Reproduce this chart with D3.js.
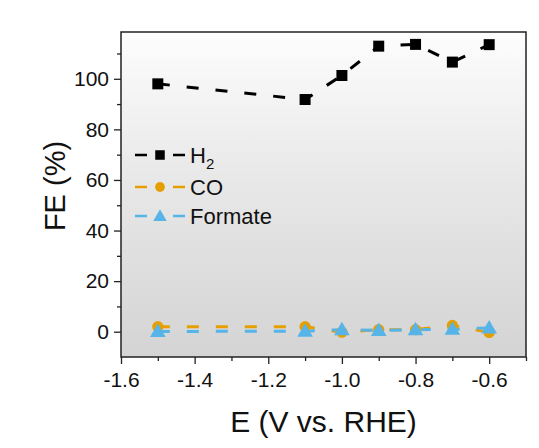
<!DOCTYPE html>
<meta charset="utf-8">
<script src="https://d3js.org/d3.v7.min.js"></script>
<style>
body { margin: 0; background: #fff; }
text { font-family: "Liberation Sans", Arial, sans-serif; fill: #111; }
.axis path { display: none; }
.axis line { stroke: #222; stroke-width: 1.3px; }
.axis text { font-size: 21px; font-family: "Liberation Sans", Arial, sans-serif; fill: #111; }
</style>
<body>
<script>
var potentials = [-1.5, -1.1, -1.0, -0.9, -0.8, -0.7, -0.6];
var h2 = [98.0, 91.8, 101.3, 112.9, 113.6, 106.6, 113.5];
var co = [2.0, 2.0, -0.2, 0.8, 0.8, 2.5, -0.3];
var formate = [0.1, 0.2, 0.8, 0.5, 0.8, 1.0, 1.5];
var xTicks = [-1.6, -1.4, -1.2, -1.0, -0.8, -0.6];
var yTicks = [0, 20, 40, 60, 80, 100];

var series = [
  {name: "H2", values: h2, color: "#000000", symbol: d3.symbolSquare},
  {name: "CO", values: co, color: "#e69f00", symbol: d3.symbolCircle},
  {name: "Formate", values: formate, color: "#56b4e9", symbol: d3.symbolTriangle}
];

var margin = {top: 32, right: 13, bottom: 91, left: 121};
var width = 539 - margin.left - margin.right,
    height = 448 - margin.top - margin.bottom;

var svg = d3.select("body").append("svg")
    .attr("width", 539)
    .attr("height", 448);

var grad = svg.append("defs").append("linearGradient")
    .attr("id", "bg").attr("x1", 0).attr("y1", 0).attr("x2", 0).attr("y2", 1);
grad.append("stop").attr("offset", "0%").attr("stop-color", "#fdfdfd");
grad.append("stop").attr("offset", "45%").attr("stop-color", "#e8e8e8");
grad.append("stop").attr("offset", "100%").attr("stop-color", "#d4d4d4");

var g = svg.append("g")
    .attr("transform", "translate(" + margin.left + "," + margin.top + ")");

var x = d3.scaleLinear().domain([-1.6, -0.5]).range([0, width]);
var y = d3.scaleLinear().domain([-10, 118.5]).range([height, 0]);

g.append("rect")
    .attr("width", width).attr("height", height)
    .attr("fill", "url(#bg)");

// minor ticks
g.append("g").attr("class", "axis")
    .attr("transform", "translate(0," + height + ")")
    .call(d3.axisBottom(x).tickValues(d3.range(-1.5, -0.45, 0.2)).tickSize(4).tickFormat(""));
g.append("g").attr("class", "axis")
    .call(d3.axisLeft(y).tickValues(d3.range(10, 115, 20)).tickSize(4).tickFormat(""));

// major ticks
var fmt = d3.format(".1f");
var xAxis = g.append("g").attr("class", "axis")
    .attr("transform", "translate(0," + height + ")")
    .call(d3.axisBottom(x).tickValues(xTicks).tickSize(7)
      .tickFormat(function(d) { return fmt(d).replace("\u2212", "-"); }));
xAxis.selectAll("text").attr("y", 30).attr("dy", 0);

var yAxis = g.append("g").attr("class", "axis")
    .call(d3.axisLeft(y).tickValues(yTicks).tickSize(7));
yAxis.selectAll("text").attr("x", -12);

// frame
g.append("rect")
    .attr("width", width).attr("height", height)
    .attr("fill", "none").attr("stroke", "#222").attr("stroke-width", 1.5);

var line = d3.line()
    .x(function(d, i) { return x(potentials[i]); })
    .y(function(d) { return y(d); });

series.forEach(function(s) {
  g.append("path")
    .datum(s.values)
    .attr("fill", "none")
    .attr("stroke", s.color)
    .attr("stroke-width", 3)
    .attr("stroke-dasharray", "12,17")
    .attr("d", line);
});

function markerSize(s) {
  return s.symbol === d3.symbolTriangle ? 105 : (s.symbol === d3.symbolSquare ? 121 : 100);
}

series.forEach(function(s) {
  var sym = d3.symbol().type(s.symbol).size(markerSize(s));
  g.selectAll(null).data(s.values).enter().append("path")
    .attr("d", sym)
    .attr("fill", s.color)
    .attr("transform", function(d, i) {
      return "translate(" + x(potentials[i]) + "," + (y(d) + (s.symbol === d3.symbolTriangle ? 1 : 0)) + ")";
    });
});

// legend
var legend = g.append("g").attr("transform", "translate(14,123)");
var rowY = [0, 32, 61];
series.forEach(function(s, i) {
  var row = legend.append("g").attr("transform", "translate(0," + rowY[i] + ")");
  row.append("line").attr("x1", 0).attr("x2", 12).attr("stroke", s.color).attr("stroke-width", 2.5);
  row.append("line").attr("x1", 38).attr("x2", 50).attr("stroke", s.color).attr("stroke-width", 2.5);
  row.append("path")
    .attr("d", d3.symbol().type(s.symbol).size(markerSize(s) * 0.75))
    .attr("fill", s.color)
    .attr("transform", "translate(25," + (s.symbol === d3.symbolTriangle ? 1 : 0) + ")");
  var t = row.append("text").attr("x", 55).attr("y", 8).style("font-size", "22px");
  if (s.name === "H2") {
    t.append("tspan").text("H");
    t.append("tspan").attr("dy", 6).style("font-size", "15px").text("2");
  } else {
    t.text(s.name);
  }
});

// axis titles
svg.append("text")
    .attr("x", margin.left + x(-1.05)).attr("y", 432)
    .attr("text-anchor", "middle")
    .style("font-size", "30px")
    .text("E (V vs. RHE)");

svg.append("text")
    .attr("transform", "translate(65,186) rotate(-90)")
    .attr("text-anchor", "middle")
    .style("font-size", "29px")
    .text("FE (%)");
</script>
</body>
